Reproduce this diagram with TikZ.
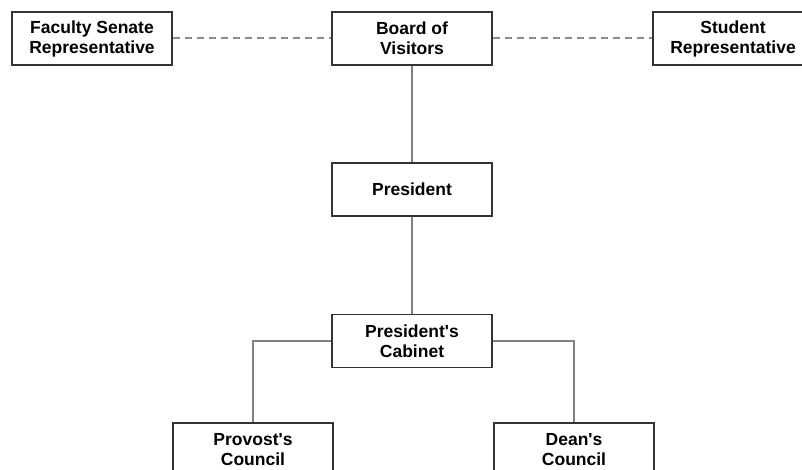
\documentclass[tikz,border=0pt]{standalone}
\usepackage{fontspec}
\setmainfont{Liberation Sans}
\tikzset{
    unit/.style={draw=black!80, line width=1.2pt, fill=white, minimum width=160pt,
        minimum height=53pt, align=center, inner sep=0pt,
        font=\bfseries\fontsize{17.5}{20}\selectfont},
    link/.style={draw=black!50, line width=1.4pt},
    advisory/.style={link, draw=black!45, line width=2pt, dash pattern=on 7pt off 5pt}
}
\begin{document}
\begin{tikzpicture}[x=1pt,y=-1pt]
    \useasboundingbox (0,0) rectangle (802,470);
    % top row
    \node[unit] (senate) at (92,38.5) {Faculty Senate\\Representative};
    \node[unit] (board) at (412,38.5) {Board of\\Visitors};
    \node[unit] (student) at (733,38.5) {Student\\Representative};
    % middle
    \node[unit] (president) at (412,189.5) {President};
    \node[unit] (cabinet) at (412,341) {President\textquotesingle s\\Cabinet};
    % councils
    \node[unit] (provost) at (253,449.5) {Provost\textquotesingle s\\Council};
    \node[unit] (dean) at (574,449.5) {Dean\textquotesingle s\\Council};
    % connectors
    \draw[advisory] (senate) -- (board);
    \draw[advisory] (board) -- (student);
    \draw[link] (board) -- (president);
    \draw[link] (president) -- (cabinet);
    \draw[link] (cabinet.west) -| (provost.north);
    \draw[link] (cabinet.east) -| (dean.north);
\end{tikzpicture}
\end{document}
